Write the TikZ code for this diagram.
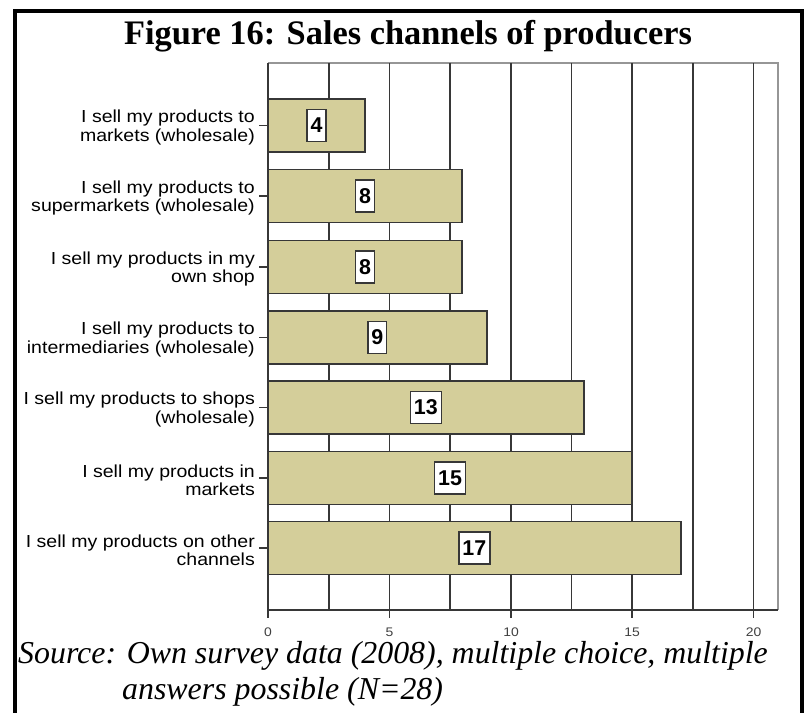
\documentclass[tikz,border=0pt]{standalone}
\usepackage{fontspec}
\usepackage{xcolor}
\usepackage{tikz}
\setmainfont{Liberation Serif}
\newfontfamily\chartfont[FakeStretch=1.12]{Liberation Sans}
\newfontfamily\valuefont{Liberation Sans}
\definecolor{bartan}{RGB}{212,206,154}
\definecolor{griddark}{RGB}{55,55,55}
\definecolor{gridlight}{RGB}{150,150,150}

\begin{document}
\begin{tikzpicture}[x=1bp,y=-1bp,
        barbox/.style={draw=griddark,line width=1.8bp,fill=bartan},
        gridline/.style={draw=griddark,line width=1.6bp},
        valuebox/.style={draw=griddark,line width=1.4bp,fill=white,inner xsep=3.5bp,inner ysep=0pt,
            minimum height=32bp,font=\valuefont\fontsize{21.5}{22}\selectfont\bfseries},
        catlabel/.style={align=right,anchor=east,inner sep=0pt,
            font=\chartfont\fontsize{17.5}{18.3}\selectfont},
        ticklabel/.style={text=black!75,inner sep=0pt,font=\chartfont\fontsize{12.5}{13}\selectfont},
        sourceline/.style={anchor=base west,inner sep=0pt,text height=23bp,text depth=7bp,
            font=\fontsize{32}{36}\selectfont\itshape}]
        \useasboundingbox (0,0) rectangle (804,713);

        % outer frame, open at the bottom
        \draw[line width=4bp] (14.5,713) -- (14.5,11) -- (801.5,11) -- (801.5,713);

        % Title
        \draw (408,45) node[anchor=base] (title) {\fontsize{34.5}{40}\selectfont\bfseries Figure 16: Sales channels of producers};

        % plot area border
        \draw[gridlight,line width=1.4bp] (268,63) -- (778,63) -- (778,610);

        % grid lines every 2.5
        \draw[gridline] (329,63) -- (329,610);
        \draw[gridline] (389.5,63) -- (389.5,610);
        \draw[gridline] (450,63) -- (450,610);
        \draw[gridline] (511,63) -- (511,610);
        \draw[gridline] (571.5,63) -- (571.5,610);
        \draw[gridline] (632,63) -- (632,610);
        \draw[gridline] (693,63) -- (693,610);
        \draw[gridline] (753.5,63) -- (753.5,610);

        % bars
        \draw[barbox] (268,99) rectangle (365,152);
        \draw[barbox] (268,169.5) rectangle (462.3,222.5);
        \draw[barbox] (268,240.5) rectangle (462.3,293.5);
        \draw[barbox] (268,311) rectangle (486.6,364);
        \draw[barbox] (268,381) rectangle (583.7,434);
        \draw[barbox] (268,451.5) rectangle (632.3,504.5);
        \draw[barbox] (268,521.5) rectangle (680.9,574.5);

        % axes
        \draw[gridline] (268,63) -- (268,610) -- (778,610);

        % values on the bars
        \draw (316.6,125.5) node[valuebox] (val1) {4};
        \draw (365.1,196) node[valuebox] (val2) {8};
        \draw (365.1,267) node[valuebox] (val3) {8};
        \draw (377.3,337.5) node[valuebox] (val4) {9};
        \draw (425.9,407.5) node[valuebox] (val5) {13};
        \draw (450.1,478) node[valuebox] (val6) {15};
        \draw (474.4,548) node[valuebox] (val7) {17};

        % category ticks and names
        \draw[gridline] (259,125.5) -- (268,125.5);
        \draw[gridline] (259,196) -- (268,196);
        \draw[gridline] (259,267) -- (268,267);
        \draw[gridline] (259,337.5) -- (268,337.5);
        \draw[gridline] (259,407.5) -- (268,407.5);
        \draw[gridline] (259,478) -- (268,478);
        \draw[gridline] (259,548) -- (268,548);

        \draw (255,127.5) node[catlabel] (lab1) {I sell my products to\\markets (wholesale)};
        \draw (255,198) node[catlabel] (lab2) {I sell my products to\\supermarkets (wholesale)};
        \draw (255,269) node[catlabel] (lab3) {I sell my products in my\\own shop};
        \draw (255,339.5) node[catlabel] (lab4) {I sell my products to\\intermediaries (wholesale)};
        \draw (255,409.5) node[catlabel] (lab5) {I sell my products to shops\\(wholesale)};
        \draw (255,480) node[catlabel] (lab6) {I sell my products in\\markets};
        \draw (255,550) node[catlabel] (lab7) {I sell my products on other\\channels};

        % scale ticks and numbers
        \draw[gridline] (268,610) -- (268,618);
        \draw[gridline] (389.5,610) -- (389.5,618);
        \draw[gridline] (511,610) -- (511,618);
        \draw[gridline] (632,610) -- (632,618);
        \draw[gridline] (753.5,610) -- (753.5,618);
        \draw (268,632) node[ticklabel] (t0) {0};
        \draw (389.5,632) node[ticklabel] (t5) {5};
        \draw (511,632) node[ticklabel] (t10) {10};
        \draw (632,632) node[ticklabel] (t15) {15};
        \draw (753.5,632) node[ticklabel] (t20) {20};

        % Source
        \draw (18,663) node[sourceline] (src1) {Source: Own survey data (2008), multiple choice, multiple};
        \draw (122,699) node[sourceline] (src2) {answers possible (N=28)};

    \end{tikzpicture}
\end{document}
